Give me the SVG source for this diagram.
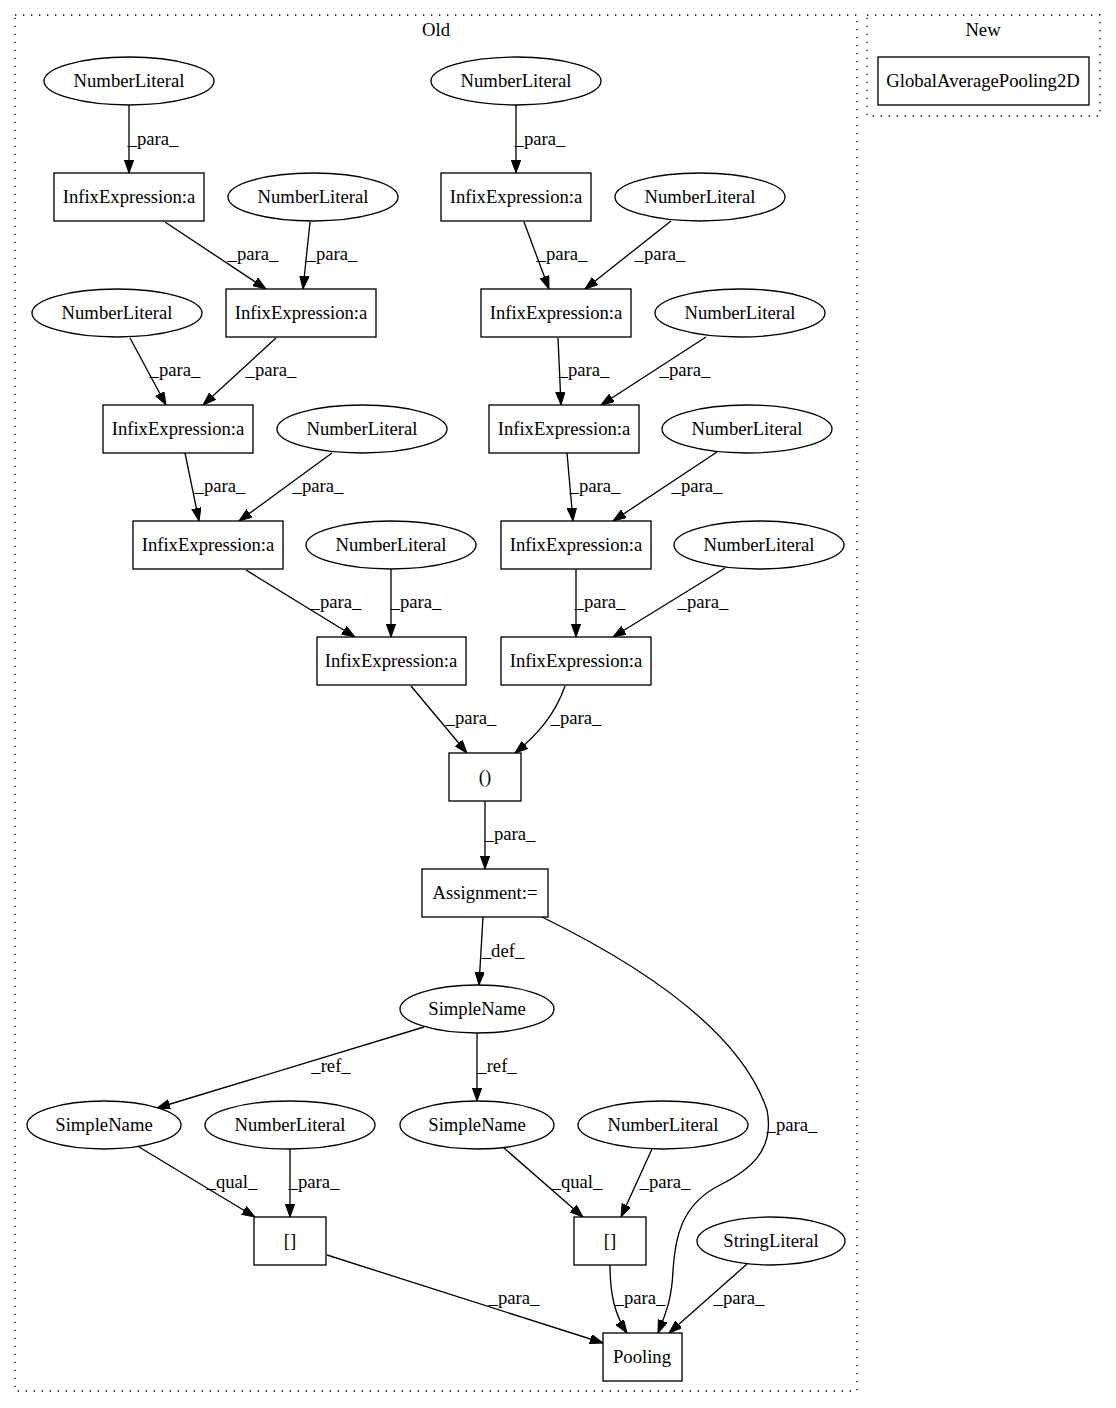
<svg xmlns="http://www.w3.org/2000/svg" width="1116" height="1408" viewBox="0 0 1116 1408">
<defs>
<marker id="arr" markerUnits="userSpaceOnUse" markerWidth="14" markerHeight="10" refX="13" refY="4.67" orient="auto">
<path d="M0,0 L13,4.67 L0,9.33 z" fill="#000" stroke="#000" stroke-width="1"/>
</marker>
<style>
text{font-family:"Liberation Serif","Times New Roman",serif;font-size:18.67px;fill:#000;text-anchor:middle}
.n rect,.n ellipse{fill:#fff;stroke:#000;stroke-width:1.33}
.cl{fill:none;stroke:#000;stroke-width:1.33;stroke-dasharray:1.33,6.67}
#edges path{fill:none;stroke:#000;stroke-width:1.33;marker-end:url(#arr)}
</style>
</defs>
<rect width="1116" height="1408" fill="#fff"/>
<g id="cluster_old"><rect class="cl" x="15" y="15" width="842" height="1376"/><text x="436" y="36">Old</text></g>
<g id="cluster_new"><rect class="cl" x="867" y="15" width="233" height="101"/><text x="983" y="36">New</text></g>

<g id="edges">
<path d="M129,105 L129,173"/><text x="153" y="145">_para_</text>
<path d="M516,105 L516,173"/><text x="540" y="145">_para_</text>
<path d="M165,222 L266,289"/><text x="253" y="260">_para_</text>
<path d="M310,222 L303,289"/><text x="332" y="260">_para_</text>
<path d="M130,338 L166,405"/><text x="175" y="376">_para_</text>
<path d="M276,338 L203,405"/><text x="271" y="376">_para_</text>
<path d="M185,453 L199,521"/><text x="220" y="492">_para_</text>
<path d="M332,453 L239,521"/><text x="318" y="492">_para_</text>
<path d="M246,570 L355,637"/><text x="336" y="608">_para_</text>
<path d="M391,569 L391,637"/><text x="416" y="608">_para_</text>
<path d="M411,686 L467,753"/><text x="471" y="724">_para_</text>
<path d="M524,222 L549,289"/><text x="562" y="260">_para_</text>
<path d="M671,221 L585,289"/><text x="660" y="260">_para_</text>
<path d="M558,338 L561,405"/><text x="584" y="376">_para_</text>
<path d="M706,337 L601,405"/><text x="685" y="376">_para_</text>
<path d="M567,453 L573,521"/><text x="595" y="492">_para_</text>
<path d="M717,452 L613,521"/><text x="697" y="492">_para_</text>
<path d="M576,569 L576,637"/><text x="600" y="608">_para_</text>
<path d="M725,568 L613,637"/><text x="703" y="608">_para_</text>
<path d="M565,686 C555,715 537,735 515,753"/><text x="576" y="724">_para_</text>
<path d="M485,801 L485,869"/><text x="510" y="840">_para_</text>
<path d="M483,917 L479,985"/><text x="503" y="957">_def_</text>
<path d="M542,917 C640,965 740,1030 767,1110 C775,1150 750,1170 720,1185 C680,1205 675,1240 673,1270 C672,1300 665,1315 658,1333"/><text x="792" y="1131">_para_</text>
<path d="M477,1033 L477,1101"/><text x="497" y="1072">_ref_</text>
<path d="M424,1027 L157,1108"/><text x="331" y="1072">_ref_</text>
<path d="M504,1148 L583,1217"/><text x="577" y="1188">_qual_</text>
<path d="M652,1149 L621,1217"/><text x="665" y="1188">_para_</text>
<path d="M610,1265 C610,1295 615,1315 627,1333"/><text x="640" y="1304">_para_</text>
<path d="M747,1264 L669,1333"/><text x="739" y="1304">_para_</text>
<path d="M139,1147 L255,1217"/><text x="232" y="1188">_qual_</text>
<path d="M290,1149 L290,1217"/><text x="314" y="1188">_para_</text>
<path d="M327,1255 L603,1343"/><text x="514" y="1304">_para_</text>
</g>

<g id="n_gap2d" class="n"><rect x="878" y="57" width="211" height="48"/><text x="983" y="87">GlobalAveragePooling2D</text></g>

<g id="n_nl1" class="n"><ellipse cx="129" cy="81" rx="85" ry="24"/><text x="129" y="87">NumberLiteral</text></g>
<g id="n_nl2" class="n"><ellipse cx="516" cy="81" rx="85" ry="24"/><text x="516" y="87">NumberLiteral</text></g>

<g id="n_ie1" class="n"><rect x="54" y="173" width="150" height="48"/><text x="129" y="203">InfixExpression:a</text></g>
<g id="n_nl3" class="n"><ellipse cx="313" cy="197" rx="85" ry="24"/><text x="313" y="203">NumberLiteral</text></g>
<g id="n_ie2" class="n"><rect x="441" y="173" width="150" height="48"/><text x="516" y="203">InfixExpression:a</text></g>
<g id="n_nl4" class="n"><ellipse cx="700" cy="197" rx="85" ry="24"/><text x="700" y="203">NumberLiteral</text></g>

<g id="n_nl5" class="n"><ellipse cx="117" cy="313" rx="85" ry="24"/><text x="117" y="319">NumberLiteral</text></g>
<g id="n_ie3" class="n"><rect x="226" y="289" width="150" height="48"/><text x="301" y="319">InfixExpression:a</text></g>
<g id="n_ie4" class="n"><rect x="481" y="289" width="150" height="48"/><text x="556" y="319">InfixExpression:a</text></g>
<g id="n_nl6" class="n"><ellipse cx="740" cy="313" rx="85" ry="24"/><text x="740" y="319">NumberLiteral</text></g>

<g id="n_ie5" class="n"><rect x="103" y="405" width="150" height="48"/><text x="178" y="435">InfixExpression:a</text></g>
<g id="n_nl7" class="n"><ellipse cx="362" cy="429" rx="85" ry="24"/><text x="362" y="435">NumberLiteral</text></g>
<g id="n_ie6" class="n"><rect x="489" y="405" width="150" height="48"/><text x="564" y="435">InfixExpression:a</text></g>
<g id="n_nl8" class="n"><ellipse cx="747" cy="429" rx="85" ry="24"/><text x="747" y="435">NumberLiteral</text></g>

<g id="n_ie7" class="n"><rect x="133" y="521" width="150" height="48"/><text x="208" y="551">InfixExpression:a</text></g>
<g id="n_nl9" class="n"><ellipse cx="391" cy="545" rx="85" ry="24"/><text x="391" y="551">NumberLiteral</text></g>
<g id="n_ie8" class="n"><rect x="501" y="521" width="150" height="48"/><text x="576" y="551">InfixExpression:a</text></g>
<g id="n_nl10" class="n"><ellipse cx="759" cy="545" rx="85" ry="24"/><text x="759" y="551">NumberLiteral</text></g>

<g id="n_ie9" class="n"><rect x="317" y="637" width="149" height="48"/><text x="391" y="667">InfixExpression:a</text></g>
<g id="n_ie10" class="n"><rect x="501" y="637" width="150" height="48"/><text x="576" y="667">InfixExpression:a</text></g>

<g id="n_paren" class="n"><rect x="449" y="753" width="72" height="48"/><text x="485" y="783">()</text></g>
<g id="n_assign" class="n"><rect x="422" y="869" width="126" height="48"/><text x="485" y="899">Assignment:=</text></g>
<g id="n_sn1" class="n"><ellipse cx="477" cy="1009" rx="77" ry="24"/><text x="477" y="1015">SimpleName</text></g>

<g id="n_sn2" class="n"><ellipse cx="104" cy="1125" rx="77" ry="24"/><text x="104" y="1131">SimpleName</text></g>
<g id="n_nl11" class="n"><ellipse cx="290" cy="1125" rx="85" ry="24"/><text x="290" y="1131">NumberLiteral</text></g>
<g id="n_sn3" class="n"><ellipse cx="477" cy="1125" rx="77" ry="24"/><text x="477" y="1131">SimpleName</text></g>
<g id="n_nl12" class="n"><ellipse cx="663" cy="1125" rx="85" ry="24"/><text x="663" y="1131">NumberLiteral</text></g>

<g id="n_idx1" class="n"><rect x="254" y="1217" width="72" height="48"/><text x="290" y="1247">[]</text></g>
<g id="n_idx2" class="n"><rect x="574" y="1217" width="72" height="48"/><text x="610" y="1247">[]</text></g>
<g id="n_str" class="n"><ellipse cx="771" cy="1241" rx="74" ry="24"/><text x="771" y="1247">StringLiteral</text></g>

<g id="n_pool" class="n"><rect x="603" y="1333" width="79" height="48"/><text x="642" y="1363">Pooling</text></g>
</svg>
